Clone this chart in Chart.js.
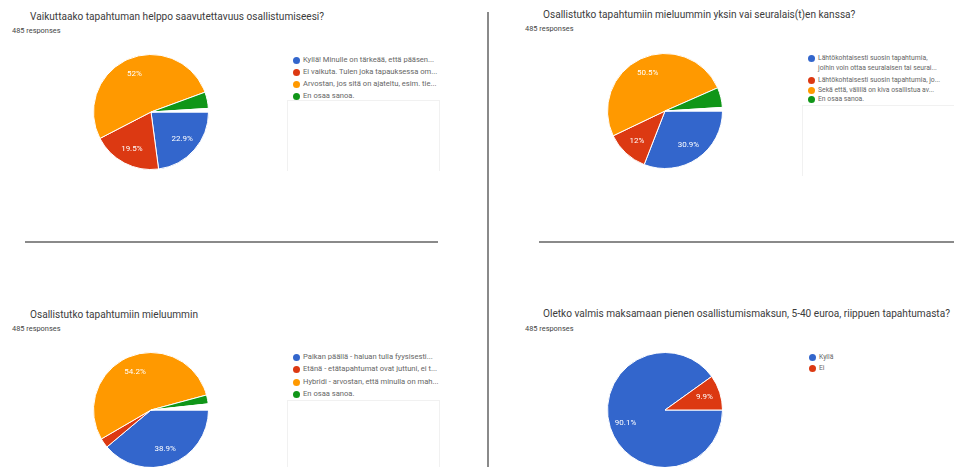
<!DOCTYPE html>
<html>
<head>
<meta charset="utf-8">
<script src="https://cdn.jsdelivr.net/npm/chart.js@4/dist/chart.umd.min.js"></script>
<style>
  html, body { margin:0; padding:0; background:#fff; width:954px; height:467px; overflow:hidden; position:relative; font-family: Roboto, "Liberation Sans", Arial, sans-serif; }
  .abs { position:absolute; white-space:nowrap; }
  .title { font-size:10.1px; line-height:12px; color:#3c3c3c; }
  .resp { font-size:7.4px; line-height:8px; color:#444; }
  .leg { position:absolute; color:#666; }
  .leg .item { position:absolute; left:0; white-space:pre; }
  .leg .dot { position:absolute; border-radius:50%; }
  .sep { position:absolute; background:#8a8a8a; }
  .lbox { position:absolute; border:1px solid #f1f1f1; border-bottom:none; }
  canvas { position:absolute; }
</style>
</head>
<body>
<script>
// ---------- data ----------
const sliceColors = ["#3366cc", "#dc3912", "#ff9900", "#109618", "#ffffff"];
const responsesText = "485 responses";

const q1Title = "Vaikuttaako tapahtuman helppo saavutettavuus osallistumiseesi?";
const q1Labels = ["Kyllä! Minulle on tärkeää, että pääsen...", "Ei vaikuta. Tulen joka tapauksessa om...", "Arvostan, jos sitä on ajateltu, esim. tie...", "En osaa sanoa.", "Muu"];
const q1Values = [22.9, 19.5, 52, 4.6, 1.0];

const q2Title = "Osallistutko tapahtumiin mieluummin yksin vai seuralais(t)en kanssa?";
const q2Labels = ["Lähtökohtaisesti suosin tapahtumia,\njoihin voin ottaa seuralaisen tai seurai...", "Lähtökohtaisesti suosin tapahtumia, jo...", "Sekä että, välillä on kiva osallistua av...", "En osaa sanoa.", "Muu"];
const q2Values = [30.9, 12, 50.5, 5.6, 1.0];

const q3Title = "Osallistutko tapahtumiin mieluummin";
const q3Labels = ["Paikan päällä - haluan tulla fyysisesti...", "Etänä - etätapahtumat ovat juttuni, ei t...", "Hybridi - arvostan, että minulla on mah...", "En osaa sanoa.", "Muu"];
const q3Values = [38.9, 2.7, 54.2, 2.5, 1.7];

const q4Title = "Oletko valmis maksamaan pienen osallistumismaksun, 5-40 euroa, riippuen tapahtumasta?";
const q4Labels = ["Kyllä", "Ei"];
const q4Values = [90.1, 9.9];

// ---------- layout ----------
const panels = [
  { title:q1Title, labels:q1Labels, values:q1Values, legendCount:4,
    titleX:30, titleY:17, respX:12, respY:31, cx:151, cy:112,
    legX:296, legY:[60,72,84,96], legFont:7.6, boxRect:[287,100,151,70] },
  { title:q2Title, labels:q2Labels, values:q2Values, legendCount:4,
    titleX:543, titleY:15, respX:525, respY:29, cx:665, cy:111,
    legX:811, legY:[58,80,90,99], legFont:6.8, boxRect:[802,105,152,70] },
  { title:q3Title, labels:q3Labels, values:q3Values, legendCount:4,
    titleX:30, titleY:315, respX:12, respY:329, cx:151, cy:410,
    legX:296, legY:[357,369,382,394], legFont:7.6, boxRect:[287,400,151,70] },
  { title:q4Title, labels:q4Labels, values:q4Values, legendCount:2,
    titleX:543, titleY:314, respX:525, respY:329, cx:665, cy:410,
    legX:812, legY:[357,368], legFont:6.8, boxRect:null }
];

function addDiv(cls, text, x, y, h) {
  const d = document.createElement('div');
  d.className = 'abs ' + cls;
  d.textContent = text;
  d.style.left = x + 'px';
  d.style.top = (y - h/2) + 'px';
  document.body.appendChild(d);
  return d;
}

function sep(x, y, w, h) {
  const d = document.createElement('div');
  d.className = 'sep';
  Object.assign(d.style, { left:x+'px', top:y+'px', width:w+'px', height:h+'px' });
  document.body.appendChild(d);
}
sep(25, 241, 413, 2);
sep(539, 241, 415, 2);
sep(487, 12, 2, 455);

const labelPlugin = {
  id: 'sliceLabels',
  afterDatasetsDraw(chart) {
    const ctx = chart.ctx;
    const meta = chart.getDatasetMeta(0);
    const vals = chart.data.datasets[0].data;
    ctx.save();
    ctx.fillStyle = '#ffffff';
    ctx.font = '8px Roboto, Arial, sans-serif';
    ctx.textAlign = 'center';
    ctx.textBaseline = 'middle';
    meta.data.forEach((arc, i) => {
      if (vals[i] < 8) return;
      const p = arc.getProps(['x','y','startAngle','endAngle','outerRadius'], true);
      const mid = (p.startAngle + p.endAngle) / 2;
      const r = p.outerRadius * 0.72;
      const txt = (Math.round(vals[i] * 10) / 10) + '%';
      ctx.fillText(txt, p.x + Math.cos(mid) * r, p.y + Math.sin(mid) * r);
    });
    ctx.restore();
  }
};

const SIZE = 116;
panels.forEach(p => {
  addDiv('title', p.title, p.titleX, p.titleY, 12);
  addDiv('resp', responsesText, p.respX, p.respY, 8);

  const leg = document.createElement('div');
  leg.className = 'leg';
  leg.style.left = p.legX + 'px';
  leg.style.top = '0px';
  leg.style.fontSize = p.legFont + 'px';
  for (let i = 0; i < p.legendCount; i++) {
    const dot = document.createElement('div');
    dot.className = 'dot';
    const ds = 7;
    Object.assign(dot.style, { left:(-ds/2)+'px', top:(p.legY[i]-ds/2)+'px', width:ds+'px', height:ds+'px', background:sliceColors[i] });
    leg.appendChild(dot);
    const it = document.createElement('div');
    it.className = 'item';
    it.textContent = p.labels[i];
    const lh = p.legFont * 1.55;
    Object.assign(it.style, { left:'7px', top:(p.legY[i]-lh/2)+'px', lineHeight:lh+'px' });
    leg.appendChild(it);
  }
  document.body.appendChild(leg);

  if (p.boxRect) {
    const b = document.createElement('div');
    b.className = 'lbox';
    Object.assign(b.style, { left:p.boxRect[0]+'px', top:p.boxRect[1]+'px', width:p.boxRect[2]+'px', height:p.boxRect[3]+'px' });
    document.body.appendChild(b);
  }

  const c = document.createElement('canvas');
  c.width = SIZE; c.height = SIZE;
  c.style.left = (p.cx - SIZE/2) + 'px';
  c.style.top = (p.cy - SIZE/2) + 'px';
  document.body.appendChild(c);
  new Chart(c, {
    type: 'pie',
    data: {
      labels: p.labels,
      datasets: [{
        data: p.values,
        backgroundColor: sliceColors.slice(0, p.values.length),
        borderColor: '#ffffff',
        borderWidth: 1
      }]
    },
    options: {
      responsive: false,
      animation: false,
      rotation: 90,
      layout: { padding: 0 },
      plugins: { legend: { display: false }, tooltip: { enabled: false } }
    },
    plugins: [labelPlugin]
  });
});
</script>
</body>
</html>
